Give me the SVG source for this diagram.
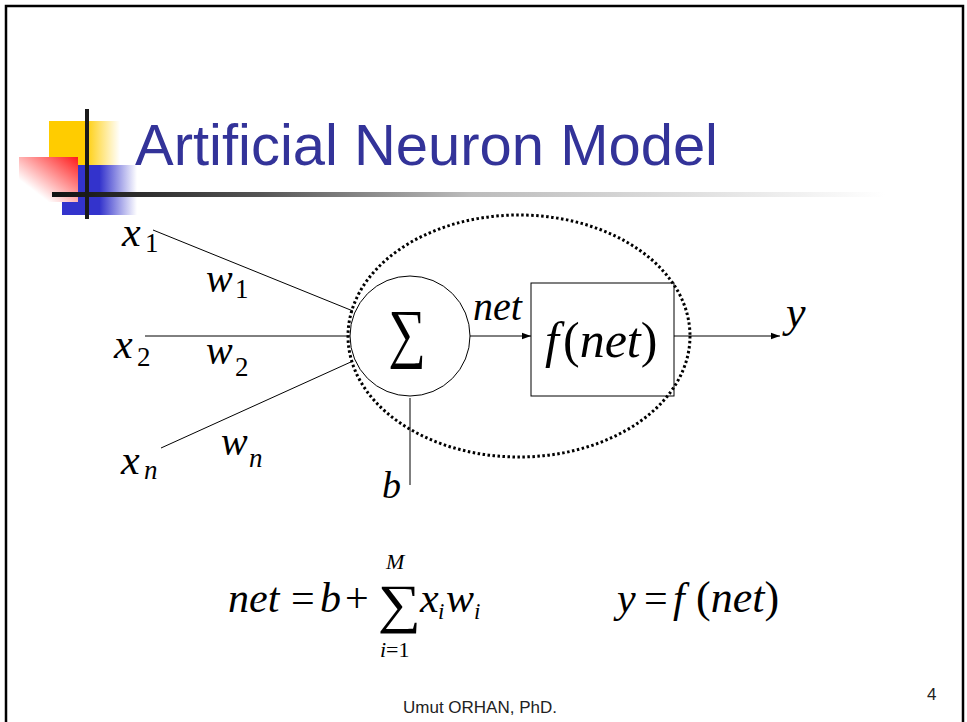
<svg xmlns="http://www.w3.org/2000/svg" width="967" height="722" viewBox="0 0 967 722">
<style>
.m{font-family:"Liberation Serif","Times New Roman",serif;font-style:italic;fill:#000}
.r{font-family:"Liberation Serif","Times New Roman",serif;font-style:normal;fill:#000}
.ln{stroke:#000;stroke-width:1;fill:none}
.ft{font-family:"Liberation Sans",Tahoma,sans-serif;fill:#222}
</style>
<defs>
<marker id="ah" markerWidth="10" markerHeight="8" refX="9" refY="4" orient="auto" markerUnits="userSpaceOnUse">
<path d="M0,0.8 L9,4 L0,7.2 Z" fill="#000"/>
</marker>
<linearGradient id="gy" x1="0" y1="0" x2="1" y2="0">
<stop offset="0" stop-color="#ffcc00"/><stop offset="0.5" stop-color="#ffcc00"/><stop offset="1" stop-color="#ffffff"/>
</linearGradient>
<linearGradient id="gb" x1="0" y1="0" x2="1" y2="0">
<stop offset="0" stop-color="#3333cc"/><stop offset="0.5" stop-color="#3333cc"/><stop offset="1" stop-color="#ffffff"/>
</linearGradient>
<linearGradient id="gr" x1="1" y1="0" x2="0" y2="1">
<stop offset="0" stop-color="#ff1a1a"/><stop offset="0.75" stop-color="#ffffff"/><stop offset="1" stop-color="#ffffff"/>
</linearGradient>
<linearGradient id="gl" x1="52" y1="0" x2="885" y2="0" gradientUnits="userSpaceOnUse">
<stop offset="0" stop-color="#111"/><stop offset="0.25" stop-color="#555"/><stop offset="0.5" stop-color="#bbb"/><stop offset="1" stop-color="#fff"/>
</linearGradient>
</defs>
<rect width="967" height="722" fill="#fff"/>
<rect x="6" y="6" width="957" height="740" fill="none" stroke="#000" stroke-width="2.5"/>

<g id="logo">
<rect x="49" y="121" width="71" height="44" fill="url(#gy)"/>
<rect x="62" y="165" width="75" height="50" fill="url(#gb)"/>
<rect x="19" y="157" width="59" height="45" fill="url(#gr)"/>
<rect x="52" y="192" width="833" height="5" fill="url(#gl)"/>
<rect x="85" y="109" width="4" height="110" fill="#1a1a1a"/>
</g>
<g id="title">
<text x="135" y="165" font-family="'Liberation Sans',Tahoma,sans-serif" font-size="58" fill="#333399" textLength="583" lengthAdjust="spacingAndGlyphs">Artificial Neuron Model</text>
</g>

<g id="connectors">
<line class="ln" x1="153" y1="230" x2="353" y2="311"/>
<line class="ln" x1="145" y1="336" x2="350" y2="336"/>
<line class="ln" x1="161" y1="448" x2="353" y2="361"/>
<line class="ln" x1="410" y1="398" x2="410" y2="485"/>
<line class="ln" x1="470" y1="336" x2="531" y2="336" marker-end="url(#ah)"/>
<line class="ln" x1="674" y1="336" x2="780" y2="336" marker-end="url(#ah)"/>
</g>

<g id="inputs">
<text class="m" x="122" y="246" font-size="42">x</text><text class="r" x="145" y="252" font-size="27">1</text>
<text class="m" x="206" y="292" font-size="40">w</text><text class="r" x="235" y="298" font-size="27">1</text>
<text class="m" x="114" y="358" font-size="42">x</text><text class="r" x="137" y="366" font-size="27">2</text>
<text class="m" x="206" y="364" font-size="40">w</text><text class="r" x="235" y="376" font-size="27">2</text>
<text class="m" x="121" y="474" font-size="42">x</text><text class="m" x="144" y="479" font-size="27">n</text>
<text class="m" x="221" y="455" font-size="40">w</text><text class="m" x="249" y="467" font-size="27">n</text>
</g>

<g id="summation">
<circle cx="410" cy="336" r="60" fill="none" stroke="#000" stroke-width="1"/>
<text class="r" transform="translate(407,355) scale(0.8,1)" x="0" y="0" font-size="66" text-anchor="middle">∑</text>
</g>
<g id="bias">
<text class="m" x="382" y="498" font-size="38">b</text>
</g>
<g id="net-label">
<text class="m" x="473" y="320" font-size="40">net</text>
</g>
<g id="activation">
<rect x="531" y="283" width="143" height="113" fill="none" stroke="#000" stroke-width="1"/>
<text class="m" x="545" y="357" font-size="50">f</text>
<text class="r" x="563" y="357" font-size="50">(<tspan class="m">net</tspan>)</text>
</g>
<g id="output">
<text class="m" x="786" y="327" font-size="44">y</text>
</g>
<g id="group-ellipse">
<ellipse cx="519" cy="336" rx="171" ry="121" fill="none" stroke="#000" stroke-width="3" stroke-dasharray="2.5 2.5"/>
</g>

<g id="formulas">
<text class="m" x="228" y="612" font-size="42">net</text>
<text class="r" x="291" y="612" font-size="42">=</text>
<text class="m" x="320" y="612" font-size="42">b</text>
<text class="r" x="345" y="612" font-size="42">+</text>
<text class="r" x="378" y="622" font-size="54" transform="translate(378,622) scale(1.12,1) translate(-378,-622)">∑</text>
<text class="m" x="386" y="569" font-size="22">M</text>
<text class="m" x="380" y="657" font-size="22">i</text><text class="r" x="386" y="657" font-size="22">=1</text>
<text class="m" x="420" y="612" font-size="42">x</text><text class="m" x="438" y="619" font-size="23">i</text>
<text class="m" x="446" y="612" font-size="42">w</text><text class="m" x="474" y="619" font-size="23">i</text>
<text class="m" x="617" y="612" font-size="42">y</text>
<text class="r" x="644" y="612" font-size="42">=</text>
<text class="m" x="673" y="612" font-size="42">f</text>
<text class="r" x="696" y="612" font-size="44">(<tspan class="m">net</tspan>)</text>
</g>

<g id="footer">
<text class="ft" x="403" y="713" font-size="17">Umut ORHAN, PhD.</text>
<text class="ft" x="927" y="700" font-size="17">4</text>
</g>
</svg>
